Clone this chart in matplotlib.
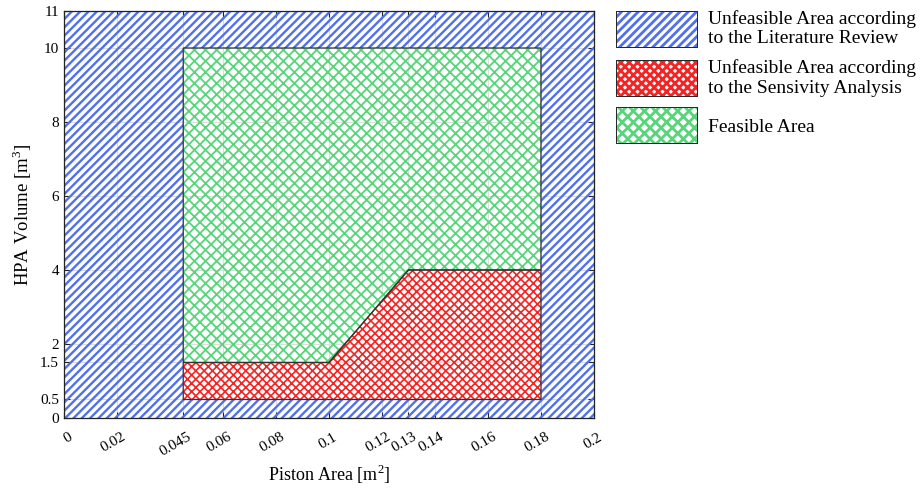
import numpy as np
import matplotlib
matplotlib.use('Agg')
import matplotlib.pyplot as plt
import matplotlib.patches as mpatches
import matplotlib.transforms as mtransforms
from matplotlib.path import Path

plt.rcParams['font.family'] = ['Liberation Serif', 'DejaVu Serif']
plt.rcParams['mathtext.fontset'] = 'custom'
plt.rcParams['mathtext.rm'] = 'Liberation Serif'
plt.rcParams['hatch.linewidth'] = 2.0

###########################
# Data
###########################

# plot limits
x_lim = [0, 0.2]
y_lim = [0, 11]

# literature review bounds (inner box)
lit_x = [0.045, 0.18]
lit_y = [0.5, 10]

# sensitivity analysis boundary (red region outline)
sens_x = [0.045, 0.18, 0.18, 0.13, 0.1, 0.045]
sens_y = [0.5, 0.5, 4, 4, 1.5, 1.5]

# feasible region outline
feas_x = [0.045, 0.1, 0.13, 0.18, 0.18, 0.045]
feas_y = [1.5, 1.5, 4, 4, 10, 10]

x_ticks = [0, 0.02, 0.045, 0.06, 0.08, 0.1, 0.12, 0.13, 0.14, 0.16, 0.18, 0.2]
x_labels = ['0', '0.02', '0.045', '0.06', '0.08', '0.1', '0.12', '0.13', '0.14', '0.16', '0.18', '0.2']
y_ticks = [0, 0.5, 1.5, 2, 4, 6, 8, 10, 11]
y_labels = ['0', '0.5', '1.5', '2', '4', '6', '8', '10', '11']

labels = ['Unfeasible Area according\nto the Literature Review',
          'Unfeasible Area according\nto the Sensivity Analysis',
          'Feasible Area']

blue = '#5070ee'
red = '#f42424'
green = '#58d47a'

hatch_blue = '////'
hatch_red = 'xxxx'
hatch_green = 'xxx'
lw_blue, lw_red, lw_green = 1.7, 1.2, 1.3


def hatched(patch, lw):
    # per patch hatch width (mpl >= 3.10)
    if hasattr(patch, 'set_hatch_linewidth'):
        patch.set_hatch_linewidth(lw)
    return patch


###########################
# Figure
###########################

fig = plt.figure(figsize=(9.22, 4.91), dpi=100)
ax = fig.add_axes([0.0694, 0.1487, 0.5748, 0.8289])

# blue area = outer box with the literature box cut out
outer = [(x_lim[0], y_lim[0]), (x_lim[1], y_lim[0]), (x_lim[1], y_lim[1]), (x_lim[0], y_lim[1]), (x_lim[0], y_lim[0])]
inner = [(lit_x[0], lit_y[0]), (lit_x[0], lit_y[1]), (lit_x[1], lit_y[1]), (lit_x[1], lit_y[0]), (lit_x[0], lit_y[0])]
codes = [Path.MOVETO] + [Path.LINETO] * 3 + [Path.CLOSEPOLY]
path = Path(outer + inner, codes + codes)
ax.add_patch(hatched(mpatches.PathPatch(path, facecolor='none', edgecolor=blue, hatch=hatch_blue,
                                        lw=0, zorder=2), lw_blue))

ax.add_patch(hatched(mpatches.Polygon(list(zip(sens_x, sens_y)), closed=True, facecolor='none',
                                      edgecolor=red, hatch=hatch_red, lw=0, zorder=2), lw_red))
ax.add_patch(mpatches.Polygon(list(zip(sens_x, sens_y)), closed=True, fill=False,
                              edgecolor='#333333', lw=0.9, zorder=3))

ax.add_patch(hatched(mpatches.Polygon(list(zip(feas_x, feas_y)), closed=True, facecolor='none',
                                      edgecolor=green, hatch=hatch_green, lw=0, zorder=2), lw_green))
ax.add_patch(mpatches.Polygon(list(zip(feas_x, feas_y)), closed=True, fill=False,
                              edgecolor='#333333', lw=0.9, zorder=3))

ax.set_xlim(x_lim)
ax.set_ylim(y_lim)
ax.set_xticks(x_ticks)
ax.set_xticklabels(x_labels, rotation=30, ha='right', va='top', rotation_mode='anchor')
ax.set_yticks(y_ticks)
ax.set_yticklabels(y_labels)
ax.tick_params(direction='in', top=True, right=True, length=4, labelsize=11, color='#222222')
ax.tick_params(axis='x', pad=9)
# nudge rotated labels a bit right, like the original
offset = mtransforms.ScaledTranslation(4 / 100, 0, fig.dpi_scale_trans)
for lbl in ax.get_xticklabels():
    lbl.set_transform(lbl.get_transform() + offset)
ax.grid(True, color='#dddddd', lw=0.8, zorder=0)
ax.set_axisbelow(True)
for s in ax.spines.values():
    s.set_color('#222222')
    s.set_linewidth(0.9)
    s.set_zorder(4)

ax.set_xlabel(r'Piston Area [m$^2$]', fontsize=13, labelpad=3)
ax.set_ylabel(r'HPA Volume [m$^3$]', fontsize=13.5)
ax.yaxis.set_label_coords(-0.056, 0.5)

# legend handles
h_blue = hatched(mpatches.Patch(facecolor='white', edgecolor=blue, hatch=hatch_blue, lw=0), lw_blue)
h_red = hatched(mpatches.Patch(facecolor='white', edgecolor=red, hatch=hatch_red, lw=0), lw_red)
h_green = hatched(mpatches.Patch(facecolor='white', edgecolor=green, hatch=hatch_green, lw=0), lw_green)
leg = fig.legend([h_blue, h_red, h_green], labels, loc='upper left',
                 bbox_to_anchor=(617 / 922, (491 - 10) / 491), frameon=False, fontsize=14,
                 handlelength=4.1, handleheight=2.4, labelspacing=0.6,
                 handletextpad=0.6, borderaxespad=0, borderpad=0)

# black frame around each legend swatch
fig.canvas.draw()
for p in leg.get_patches():
    ext = p.get_window_extent()
    x0, y0 = fig.transFigure.inverted().transform((ext.x0, ext.y0))
    x1, y1 = fig.transFigure.inverted().transform((ext.x1, ext.y1))
    fig.add_artist(mpatches.Rectangle((x0, y0), x1 - x0, y1 - y0, fill=False,
                                      edgecolor='#222222', lw=1.4, transform=fig.transFigure))

plt.savefig('out.png', dpi=100)
